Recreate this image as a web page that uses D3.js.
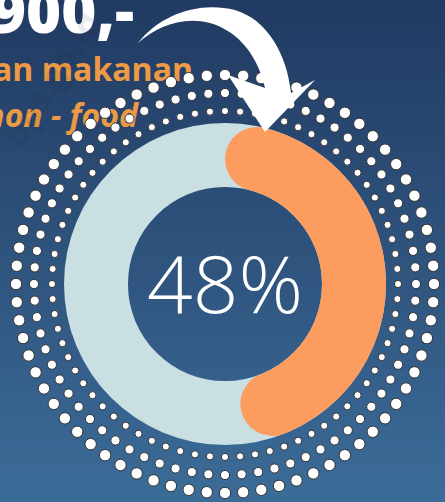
<!DOCTYPE html>
<html>
<head>
<meta charset="utf-8">
<script src="https://cdn.jsdelivr.net/npm/d3@7"></script>
<style>
  html, body { margin: 0; padding: 0; background: #2b4b75; overflow: hidden; }
  svg { display: block; }
</style>
</head>
<body>
<div id="chart"></div>
<script>
// Values.
var categories = ["non - food", "makanan"];
var shares = [48, 52];
var centerLabel = "48%";
var headline = "900,-";
var captionLines = ["an makanan", "non - food"];
var watermark = "bps.go.id";

// Size of the page.
var width = 445,
    height = 502;

var svg = d3.select("#chart")
    .append("svg")
        .attr("width", width)
        .attr("height", height);

// Background gradient, dark navy at the top to a lighter blue at the bottom.
var defs = svg.append("defs");
var grad = defs.append("linearGradient")
    .attr("id", "bg")
    .attr("x1", 0).attr("y1", 0)
    .attr("x2", 0).attr("y2", 1);
grad.append("stop").attr("offset", "0%").attr("stop-color", "#213a62");
grad.append("stop").attr("offset", "100%").attr("stop-color", "#3b6c98");

svg.append("rect")
    .attr("width", width)
    .attr("height", height)
    .attr("fill", "url(#bg)");

// Headline and caption, cut off at the left edge like in the crop.
svg.append("text")
    .attr("x", 134)
    .attr("y", 33)
    .attr("text-anchor", "end")
    .attr("font-family", "Open Sans")
    .attr("font-weight", 800)
    .attr("font-size", "60px")
    .attr("fill", "#ffffff")
    .text(headline);

svg.append("text")
    .attr("x", 193)
    .attr("y", 81)
    .attr("text-anchor", "end")
    .attr("font-family", "Open Sans")
    .attr("font-weight", 700)
    .attr("font-size", "32px")
    .attr("fill", "#ec9a45")
    .text(captionLines[0]);

svg.append("text")
    .attr("x", 138)
    .attr("y", 127)
    .attr("text-anchor", "end")
    .attr("font-family", "Open Sans")
    .attr("font-weight", 700)
    .attr("font-style", "italic")
    .attr("font-size", "32px")
    .attr("fill", "#ec9a45")
    .text(captionLines[1]);

// Faint watermark running up to the right.
svg.append("text")
    .attr("transform", "translate(22, 150) rotate(-58)")
    .attr("font-family", "Open Sans")
    .attr("font-weight", 700)
    .attr("font-size", "34px")
    .attr("fill", "#1a1a1a")
    .attr("opacity", 0.08)
    .text(watermark);

// Donut geometry.
var cx = 225, cy = 284;
var outerR = 161, innerR = 97;

var g = svg.append("g")
    .attr("transform", "translate(" + cx + ", " + cy + ")");

// Three rings of dotted decoration round the donut.
var dotRings = [
    {r: 173, size: 3.6},
    {r: 191, size: 4.6},
    {r: 209, size: 5.7}
];
var dotCount = 72;
var angle = d3.scaleLinear().domain([0, dotCount]).range([0, 2 * Math.PI]);

dotRings.forEach(function(ring){
    g.append("g").selectAll("circle")
        .data(d3.range(dotCount))
        .enter()
        .append("circle")
            .attr("cx", function(d){ return ring.r * Math.sin(angle(d)); })
            .attr("cy", function(d){ return -ring.r * Math.cos(angle(d)); })
            .attr("r", ring.size)
            .attr("fill", "#ffffff")
            .attr("stroke", "#333333")
            .attr("stroke-width", 1);
});

// Light track under the share.
var track = d3.arc()
    .innerRadius(innerR)
    .outerRadius(outerR)
    .startAngle(0)
    .endAngle(2 * Math.PI);

g.append("path")
    .attr("d", track())
    .attr("fill", "#c9dfe1");

// The non-food share, with rounded ends.
var pie = d3.pie().sort(null).value(function(d){ return d; });
var arcs = pie(shares);

var arc = d3.arc()
    .innerRadius(innerR)
    .outerRadius(outerR)
    .cornerRadius((outerR - innerR) / 2);

g.append("path")
    .datum(arcs[0])
    .attr("d", arc)
    .attr("fill", "#fd9c5f")
    .append("title")
        .text(categories[0] + ": " + shares[0] + "%");

// Percentage in the middle.
g.append("text")
    .attr("x", 0)
    .attr("y", 29)
    .attr("text-anchor", "middle")
    .attr("font-family", "Open Sans")
    .attr("font-weight", 300)
    .attr("font-size", "80px")
    .attr("fill", "#ffffff")
    .text(centerLabel);

// White curved arrow pointing at the start of the share.
svg.append("path")
    .attr("d", "M138,43 C160,15 198,1 235,10 C268,20 287,55 291,93 L315,80 L265,132 L228,75 L265,88 C258,57 240,32 210,23 C181,16 157,27 138,43 Z")
    .attr("fill", "#ffffff");
</script>
</body>
</html>
